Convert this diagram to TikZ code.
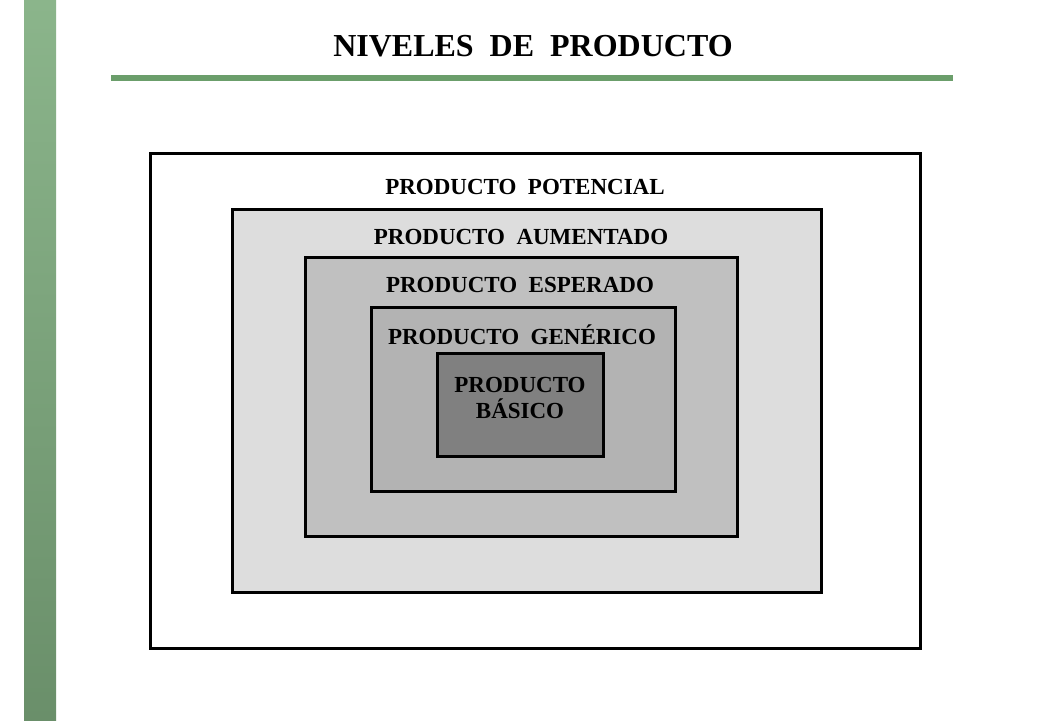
\documentclass[tikz,border=0pt]{standalone}
\usepackage{fontspec}
\setmainfont{Liberation Serif}
\definecolor{barTop}{HTML}{8BB58B}
\definecolor{barBottom}{HTML}{6A8F6A}
\definecolor{rule}{HTML}{6B9E6B}
\definecolor{aumGray}{HTML}{DDDDDD}
\definecolor{espGray}{HTML}{C0C0C0}
\definecolor{genGray}{HTML}{B3B3B3}
\definecolor{basGray}{HTML}{808080}
\tikzset{
  level/.style={draw=black, line width=3pt},
  lab/.style={font=\bfseries\fontsize{23}{26}\selectfont, align=center, inner sep=0pt}
}
\begin{document}
\begin{tikzpicture}[x=1pt, y=-1pt]

  \useasboundingbox[fill=white] (0,0) rectangle (1040,720);

  % Side bar and title
  \shade[top color=barTop, bottom color=barBottom] (24,0) rectangle (56,720);
  \node[font=\bfseries\fontsize{32}{38}\selectfont, inner sep=0pt] (title) at (533,46) {NIVELES~ DE~ PRODUCTO};
  \fill[rule] (111,75) rectangle (953,81);

  % Potential product
  \draw[level, fill=white] (150,153) rectangle (920,648);
  \node[lab] (potencial) at (525,187) {PRODUCTO~ POTENCIAL};

  % Augmented product
  \draw[level, fill=aumGray] (232,209) rectangle (821,592);
  \node[lab] (aumentado) at (521,237) {PRODUCTO~ AUMENTADO};

  % Expected product
  \draw[level, fill=espGray] (305,257) rectangle (737,536);
  \node[lab] (esperado) at (520,285) {PRODUCTO~ ESPERADO};

  % Generic product
  \draw[level, fill=genGray] (371,307) rectangle (675,491);
  \node[lab] (generico) at (522,335) {PRODUCTO~ GENÉRICO};

  % Basic product
  \draw[level, fill=basGray] (437,353) rectangle (603,456);
  \node[lab] (basico) at (520,398) {PRODUCTO\\BÁSICO};

\end{tikzpicture}
\end{document}
